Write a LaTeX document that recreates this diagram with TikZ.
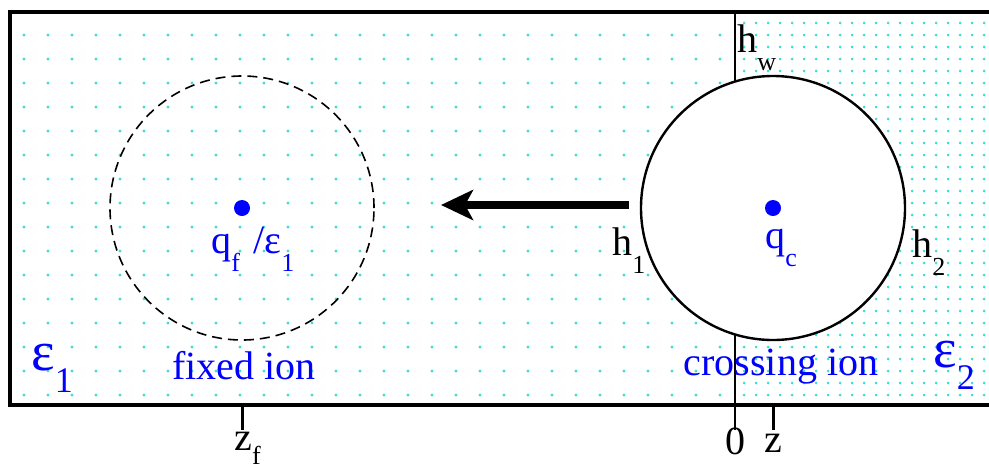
\documentclass[tikz,border=0pt]{standalone}
\usepackage{fontspec}
\setmainfont{Liberation Serif}
\usepackage{xcolor}
\usepackage{tikz}
\usetikzlibrary{arrows.meta,patterns.meta}
\definecolor{dotcol}{RGB}{64,220,205}
\definecolor{ionblue}{RGB}{0,0,255}
\newcommand{\sub}[1]{\raisebox{-9pt}{\fontsize{13}{13}\selectfont #1}}
\newcommand{\bigsub}[1]{\raisebox{-11pt}{\fontsize{18}{18}\selectfont #1}}

\begin{document}
\begin{tikzpicture}[x=0.5pt,y=-0.5pt,font=\fontsize{20}{24}\selectfont,
        ion/.style={circle, draw, line width=1.2pt, minimum size=132pt, inner sep=0pt},
        centre/.style={circle, fill=ionblue, minimum size=8pt, inner sep=0pt},
        lab/.style={inner sep=0pt},
        bluelab/.style={inner sep=0pt, text=ionblue},
        tick/.style={line width=1.5pt}]
            \useasboundingbox (0,0) rectangle (989,467);
            \fill[pattern={Dots[radius=0.8pt,distance=12pt]}, pattern color=dotcol] (10,12) rectangle (735,405);
            \fill[pattern={Dots[radius=0.75pt,distance=6pt]}, pattern color=dotcol] (735,12) rectangle (989,405);
            \draw[line width=2pt] (989,12) -- (10,12) -- (10,405) -- (989,405);
            \coordinate (walltop) at (735,12);
            \coordinate (wallbot) at (735,430);
            \draw[line width=1.2pt] (walltop) -- (wallbot);
            \node[ion, line width=0.8pt, dash pattern=on 5pt off 3pt] (fixedion) at (242,208) {};
            \node[ion, fill=white] (crossion) at (773,208) {};
            \node[centre] (qfdot) at (fixedion.center) {};
            \node[centre] (qcdot) at (crossion.center) {};
            \coordinate (tail) at (629,205);
            \coordinate (head) at (441,205);
            \draw[line width=4pt, -{Stealth[length=16pt,width=15pt,inset=4pt]}] (tail) -- (head);
            \node[bluelab, anchor=base west] (qflab) at (211,253) {q\sub{f}\,\,/ε\sub{1}};
            \node[bluelab, anchor=base west] (qclab) at (765,248) {q\sub{c}};
            \node[lab, anchor=base west] (hwlab) at (737,52) {h\sub{w}};
            \node[lab, anchor=base west] (h1lab) at (612,255) {h\sub{1}};
            \node[lab, anchor=base west] (h2lab) at (912,257) {h\sub{2}};
            \node[bluelab, anchor=base] (fixlab) at (244,379) {fixed ion};
            \node[bluelab, anchor=base] (crosslab) at (781,375) {crossing ion};
            \node[bluelab, anchor=base west] (eps1) at (31,370) {\fontsize{28}{30}\selectfont ε\bigsub{1}};
            \node[bluelab, anchor=base west] (eps2) at (933,367) {\fontsize{28}{30}\selectfont ε\bigsub{2}};
            \foreach \name/\x in {zf/242,zz/773} {
                    \coordinate (\name top) at (\x,405);
                    \coordinate (\name bot) at (\x,430);
                    \draw[tick] (\name top) -- (\name bot);
                }
            \node[lab, anchor=base west] (zflab) at (234,450) {z\raisebox{-7pt}{\fontsize{13}{13}\selectfont f}};
            \node[lab, anchor=base] (zerolab) at (735,454) {0};
            \node[lab, anchor=base] (zlab) at (773,452) {z};
        \end{tikzpicture}
\end{document}
